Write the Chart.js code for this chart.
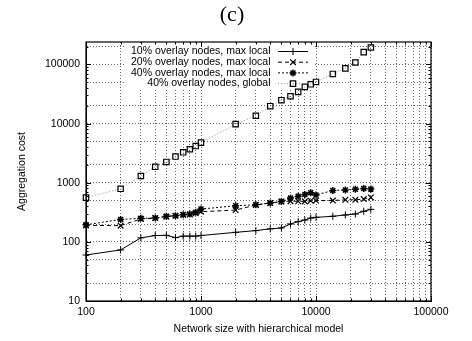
<!DOCTYPE html>
<html>
<head>
<meta charset="utf-8">
<script src="https://cdn.jsdelivr.net/npm/chart.js@4/dist/chart.umd.min.js"></script>
<style>
  html, body { margin: 0; padding: 0; background: #fff; }
  #wrap { width: 472px; height: 341px; }
</style>
</head>
<body>
<div id="wrap"><canvas id="chart" width="472" height="341"></canvas></div>
<script>
// Network sizes (x) and aggregation cost per series (y)
const networkSizes = [100, 200, 300, 400, 500, 600, 700, 800, 900, 1000,
  2000, 3000, 4000, 5000, 6000, 7000, 8000, 9000, 10000,
  14000, 18000, 22000, 26000, 30000];

const local10 = [60, 73, 117, 128, 129, 118, 125, 125, 125, 128,
  145, 155, 166, 172, 201, 220, 234, 253, 260,
  271, 285, 296, 329, 355];
const local20 = [190, 188, 244, 253, 267, 277, 288, 290, 304, 324,
  345, 420, 453, 482, 488, 486, 484, 496, 500,
  500, 515, 515, 530, 565];
const local40 = [194, 240, 250, 253, 271, 277, 288, 296, 316, 359,
  408, 425, 453, 480, 550, 590, 635, 680, 620,
  740, 755, 775, 802, 780];
const global40 = [560, 790, 1300, 1860, 2250, 2770, 3270, 3680, 4170, 4770,
  9800, 13600, 19700, 24900, 29000, 34400, 41800, 46200, 50700,
  69200, 85900, 108000, 162000, 194000];

const seriesLabels = [
  '10% overlay nodes, max local',
  '20% overlay nodes, max local',
  '40% overlay nodes, max local',
  '40% overlay nodes, global'
];

const Y_MIN = 10;
const Y_MAX = 240000;

const xTickValues = [];
for (let d = 100; d < 100000; d *= 10) {
  for (let m = 1; m < 10; m++) xTickValues.push(d * m);
}
xTickValues.push(100000);

// horizontal grid at 1, 2, 5 per decade
const yTickValues = [];
for (let d = 10; d <= 100000; d *= 10) {
  [1, 2, 5].forEach(m => { if (d * m <= Y_MAX) yTickValues.push(d * m); });
}

const FONT = 'Liberation Sans, Arial, sans-serif';

function pts(arr) {
  return networkSizes.map((n, i) => ({ x: n, y: arr[i] }));
}

function isPow10(v) {
  const l = Math.log10(v);
  return Math.abs(l - Math.round(l)) < 1e-9;
}

function drawMarker(ctx, style, x, y, r) {
  ctx.beginPath();
  if (style === 'cross' || style === 'star') {
    ctx.moveTo(x - r, y); ctx.lineTo(x + r, y);
    ctx.moveTo(x, y - r); ctx.lineTo(x, y + r);
  }
  if (style === 'crossRot' || style === 'star') {
    const o = r * Math.SQRT1_2;
    ctx.moveTo(x - o, y - o); ctx.lineTo(x + o, y + o);
    ctx.moveTo(x - o, y + o); ctx.lineTo(x + o, y - o);
  }
  if (style === 'rect') {
    const s = r * Math.SQRT1_2;
    ctx.rect(x - s, y - s, 2 * s, 2 * s);
  }
  ctx.stroke();
}

// frame, inward ticks, title and gnuplot-like key
const framePlugin = {
  id: 'frame',
  beforeDatasetsDraw(chart) {
    const ctx = chart.ctx;
    ctx.save();
    ctx.fillStyle = '#fff';
    ctx.fillRect(124, chart.chartArea.top + 1, 190, 46);
    ctx.restore();
  },
  afterDraw(chart) {
    const { ctx, chartArea: a, scales } = chart;
    ctx.save();
    ctx.strokeStyle = '#000';
    ctx.lineWidth = 1;
    ctx.setLineDash([]);
    ctx.beginPath();
    xTickValues.forEach(v => {
      const px = Math.round(scales.x.getPixelForValue(v)) + 0.5;
      const len = isPow10(v) ? 5 : 2.5;
      ctx.moveTo(px, a.bottom); ctx.lineTo(px, a.bottom - len);
      ctx.moveTo(px, a.top); ctx.lineTo(px, a.top + len);
    });
    for (let d = 10; d <= 100000; d *= 10) {
      for (let m = 1; m < 10; m++) {
        const v = d * m;
        if (v > Y_MAX) break;
        const py = Math.round(scales.y.getPixelForValue(v)) + 0.5;
        const len = m === 1 ? 5 : 2.5;
        ctx.moveTo(a.left, py); ctx.lineTo(a.left + len, py);
        ctx.moveTo(a.right, py); ctx.lineTo(a.right - len, py);
      }
    }
    ctx.stroke();
    ctx.lineWidth = 1.2;
    ctx.strokeRect(a.left, a.top, a.right - a.left, a.bottom - a.top);

    // title
    ctx.fillStyle = '#000';
    ctx.font = '22px "Liberation Serif", "Times New Roman", serif';
    ctx.textAlign = 'center';
    ctx.textBaseline = 'middle';
    ctx.fillText('(c)', 232, 15);

    // key
    ctx.font = '10.5px ' + FONT;
    ctx.textAlign = 'right';
    chart.data.datasets.forEach((ds, i) => {
      const y = 51.5 + i * 10.7;
      ctx.fillStyle = '#000';
      ctx.fillText(ds.label, 270.5, y);
      ctx.strokeStyle = ds.borderColor;
      ctx.lineWidth = ds.borderWidth;
      ctx.setLineDash(ds.borderDash || []);
      ctx.beginPath();
      ctx.moveTo(278, y); ctx.lineTo(308, y);
      ctx.stroke();
      ctx.setLineDash([]);
      ctx.strokeStyle = ds.pointBorderColor;
      ctx.lineWidth = ds.pointBorderWidth;
      drawMarker(ctx, ds.pointStyle, 293, y, ds.pointRadius);
    });
    ctx.restore();
  }
};

const ctx = document.getElementById('chart').getContext('2d');
new Chart(ctx, {
  type: 'line',
  data: {
    datasets: [{
      label: seriesLabels[0],
      data: pts(local10),
      borderColor: '#000',
      borderWidth: 1,
      borderDash: [],
      pointStyle: 'cross',
      pointRadius: 3.5,
      pointBorderColor: '#000',
      pointBorderWidth: 1
    }, {
      label: seriesLabels[1],
      data: pts(local20),
      borderColor: '#000',
      borderWidth: 1,
      borderDash: [4, 3],
      pointStyle: 'crossRot',
      pointRadius: 4,
      pointBorderColor: '#000',
      pointBorderWidth: 1.2
    }, {
      label: seriesLabels[2],
      data: pts(local40),
      borderColor: '#000',
      borderWidth: 1,
      borderDash: [2, 2],
      pointStyle: 'star',
      pointRadius: 3.5,
      pointBorderColor: '#000',
      pointBorderWidth: 1.5
    }, {
      label: seriesLabels[3],
      data: pts(global40),
      borderColor: '#777',
      borderWidth: 0.8,
      borderDash: [1, 2],
      pointStyle: 'rect',
      pointRadius: 3.8,
      pointBorderColor: '#000',
      pointBorderWidth: 1.2,
      pointBackgroundColor: 'rgba(0,0,0,0)'
    }].map(ds => Object.assign(ds, { fill: false, tension: 0, clip: 8, backgroundColor: 'rgba(0,0,0,0)' }))
  },
  options: {
    responsive: false,
    animation: false,
    events: [],
    layout: { padding: { top: 42, right: 41, left: 0, bottom: 0 } },
    plugins: {
      legend: { display: false },
      tooltip: { enabled: false }
    },
    scales: {
      x: {
        type: 'logarithmic',
        min: 100,
        max: 100000,
        afterFit(scale) { scale.height = 40; },
        afterBuildTicks(scale) { scale.ticks = xTickValues.map(v => ({ value: v })); },
        ticks: {
          autoSkip: false,
          maxRotation: 0,
          padding: 5,
          color: '#000',
          font: { family: FONT, size: 10.5 },
          callback: v => isPow10(v) ? String(v) : ''
        },
        grid: { color: 'rgba(0,0,0,0.6)', lineWidth: 1, drawTicks: false },
        border: { display: true, color: '#000', width: 1, dash: [1, 2] },
        title: {
          display: true,
          text: 'Network size with hierarchical model',
          color: '#000',
          font: { family: FONT, size: 10.5 },
          padding: { top: 0, bottom: 5.7 }
        }
      },
      y: {
        type: 'logarithmic',
        min: Y_MIN,
        max: Y_MAX,
        afterFit(scale) { scale.width = 86; },
        afterBuildTicks(scale) { scale.ticks = yTickValues.map(v => ({ value: v })); },
        ticks: {
          autoSkip: false,
          padding: 6,
          color: '#000',
          font: { family: FONT, size: 10.5 },
          callback: v => isPow10(v) ? String(v) : ''
        },
        grid: { color: 'rgba(0,0,0,0.6)', lineWidth: 1, drawTicks: false },
        border: { display: true, color: '#000', width: 1, dash: [1, 2] },
        title: {
          display: true,
          text: 'Aggregation cost',
          color: '#000',
          font: { family: FONT, size: 10.5 },
          padding: { top: 16, bottom: 0 }
        }
      }
    }
  },
  plugins: [framePlugin]
});
</script>
</body>
</html>
